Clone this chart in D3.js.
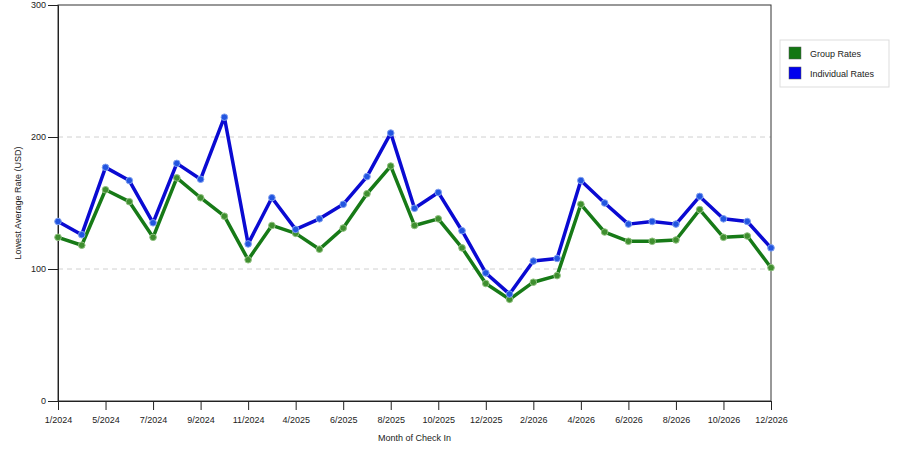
<!DOCTYPE html>
<html>
<head>
  <meta charset="utf-8">
  <title>Lowest Average Rate</title>
  <script src="https://cdn.jsdelivr.net/npm/d3@7"></script>
  <style>
    body { margin: 0; background: #fff; }
    text { font-family: "Liberation Sans", Arial, sans-serif; }
  </style>
</head>
<body>
  <svg width="900" height="450" id="chart"></svg>
  <script>
    // data
    const months = ['1/2024', '3/2024', '5/2024', '6/2024', '7/2024', '8/2024', '9/2024', '10/2024',
      '11/2024', '12/2024', '4/2025', '5/2025', '6/2025', '7/2025', '8/2025', '9/2025', '10/2025',
      '11/2025', '12/2025', '1/2026', '2/2026', '3/2026', '4/2026', '5/2026', '6/2026', '7/2026',
      '8/2026', '9/2026', '10/2026', '11/2026', '12/2026'];
    const tickMonths = ['1/2024', '5/2024', '7/2024', '9/2024', '11/2024', '4/2025', '6/2025', '8/2025',
      '10/2025', '12/2025', '2/2026', '4/2026', '6/2026', '8/2026', '10/2026', '12/2026'];
    const groupRates = [124, 118, 160, 151, 124, 169, 154, 140, 107, 133, 127, 115, 131, 157, 178, 133,
      138, 116, 89, 77, 90, 95, 149, 128, 121, 121, 122, 145, 124, 125, 101];
    const individualRates = [136, 126, 177, 167, 135, 180, 168, 215, 119, 154, 130, 138, 149, 170, 203,
      146, 158, 129, 97, 81, 106, 108, 167, 150, 134, 136, 134, 155, 138, 136, 116];
    const yTicks = [0, 100, 200, 300];

    const svg = d3.select('#chart');
    const margin = { top: 5, left: 58, right: 129, bottom: 49 };
    const innerWidth = 900 - margin.left - margin.right;
    const innerHeight = 450 - margin.top - margin.bottom;
    const g = svg.append('g').attr('transform', `translate(${margin.left}, ${margin.top})`);

    const xScale = d3.scalePoint().domain(months).range([0, innerWidth]);
    const yScale = d3.scaleLinear().domain([0, 300]).range([innerHeight, 0]);

    // grid lines
    g.selectAll('.grid').data(yTicks.filter(d => d > 0 && d < 300)).join('line')
      .attr('class', 'grid')
      .attr('x1', 0).attr('x2', innerWidth)
      .attr('y1', d => yScale(d)).attr('y2', d => yScale(d))
      .attr('stroke', '#d0d0d0')
      .attr('stroke-dasharray', '5,4');

    // frame
    g.append('rect')
      .attr('width', innerWidth).attr('height', innerHeight)
      .attr('fill', 'none').attr('stroke', '#333').attr('stroke-width', 1);

    const styleAxis = function (sel) {
      sel.attr('font-family', null).attr('font-size', null);
      sel.selectAll('.tick text')
        .attr('font-family', '"Liberation Sans", Arial, sans-serif')
        .attr('font-size', 9).attr('fill', '#222');
      sel.selectAll('line, .domain').attr('stroke', '#222');
    }

    const yAxis = d3.axisLeft(yScale).tickValues(yTicks).tickSize(10).tickPadding(2);
    g.append('g').call(yAxis).call(styleAxis);

    const xAxis = d3.axisBottom(xScale).tickValues(tickMonths).tickSize(9).tickPadding(7);
    g.append('g').attr('transform', `translate(0, ${innerHeight})`).call(xAxis).call(styleAxis);

    // axis titles
    svg.append('text')
      .attr('transform', `translate(21, ${margin.top + innerHeight / 2}) rotate(-90)`)
      .attr('text-anchor', 'middle')
      .attr('font-size', 9).attr('fill', '#222')
      .text('Lowest Average Rate (USD)');
    svg.append('text')
      .attr('x', margin.left + innerWidth / 2).attr('y', 441)
      .attr('text-anchor', 'middle')
      .attr('font-size', 9).attr('fill', '#222')
      .text('Month of Check In');

    const series = [
      { name: 'Group Rates', values: groupRates, line: '#177a17', dot: '#3f8f2f', halo: '#8fc07f', swatch: '#137713' },
      { name: 'Individual Rates', values: individualRates, line: '#0a0ad2', dot: '#2255e0', halo: '#7f9ff0', swatch: '#0000ee' }
    ];

    const line = d3.line()
      .x((d, i) => xScale(months[i]))
      .y(d => yScale(d));

    series.forEach(s => {
      g.append('path')
        .datum(s.values)
        .attr('fill', 'none')
        .attr('stroke', s.line)
        .attr('stroke-width', 3.5)
        .attr('stroke-linejoin', 'round')
        .attr('d', line);
      g.selectAll(null).data(s.values).join('circle')
        .attr('cx', (d, i) => xScale(months[i]))
        .attr('cy', d => yScale(d))
        .attr('r', 3.3)
        .attr('fill', s.dot)
        .attr('stroke', s.halo)
        .attr('stroke-width', 1);
    });

    // legend
    const lg = svg.append('g').attr('transform', 'translate(780, 40)');
    lg.append('rect')
      .attr('width', 109).attr('height', 47)
      .attr('fill', '#fff').attr('stroke', '#ddd');
    lg.selectAll('.swatch').data(series).join('rect')
      .attr('class', 'swatch')
      .attr('x', 9).attr('y', (d, i) => 7 + i * 20)
      .attr('width', 12).attr('height', 12)
      .attr('fill', d => d.swatch)
      .attr('stroke', '#555').attr('stroke-width', 0.5);
    lg.selectAll('.label').data(series).join('text')
      .attr('class', 'label')
      .attr('x', 30).attr('y', (d, i) => 17 + i * 20)
      .attr('font-size', 9).attr('fill', '#222')
      .text(d => d.name);
  </script>
</body>
</html>
